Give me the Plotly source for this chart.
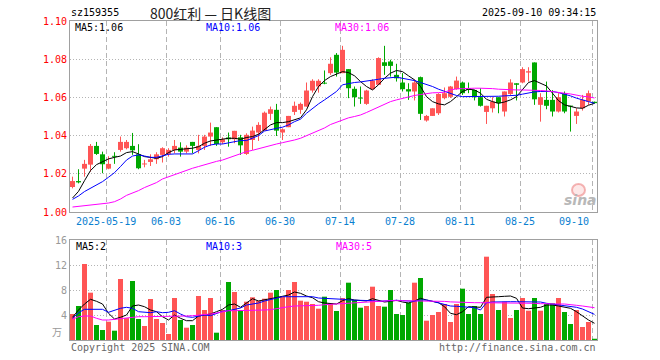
import plotly.graph_objects as go

# ---------------- data ----------------
months = {
    "05": ["09", "12", "13", "14", "15", "16", "19", "20", "21", "22", "23", "26", "27", "28", "29", "30"],
    "06": ["03", "04", "05", "06", "09", "10", "11", "12", "13", "16", "17", "18", "19", "20", "23", "24", "25", "26", "27", "30"],
    "07": ["01", "02", "03", "04", "07", "08", "09", "10", "11", "14", "15", "16", "17", "18", "21", "22", "23", "24", "25", "28", "29", "30", "31"],
    "08": ["01", "04", "05", "06", "07", "08", "11", "12", "13", "14", "15", "18", "19", "20", "21", "22", "25", "26", "27", "28", "29"],
    "09": ["01", "02", "03", "04", "05", "08", "09", "10"],
}
dates = [f"2025-{m}-{d}" for m, ds in months.items() for d in ds]

tick_dates = ["2025-05-19", "2025-06-03", "2025-06-16", "2025-06-30", "2025-07-14",
              "2025-07-28", "2025-08-11", "2025-08-25", "2025-09-10"]
tick_labels = ["2025-05-19", "06-03", "06-16", "06-30", "07-14", "07-28", "08-11", "08-25", "09-10"]

open_ = [1.0131, 1.0162, 1.0227, 1.0248, 1.0346, 1.0302, 1.0227, 1.0293, 1.0325, 1.0334,
         1.0346, 1.0302, 1.0249, 1.0262, 1.0276, 1.0299, 1.0304, 1.0325, 1.0337, 1.0316,
         1.0367, 1.0325, 1.0346, 1.0395, 1.0444, 1.0365, 1.0390, 1.0381, 1.0391, 1.0304,
         1.0377, 1.0416, 1.0426, 1.0514, 1.0535, 1.0416, 1.0444, 1.0524, 1.0535, 1.0552,
         1.0636, 1.0657, 1.0675, 1.0727, 1.0823, 1.0727, 1.0748, 1.0645, 1.0597, 1.0566,
         1.0643, 1.0666, 1.0784, 1.0788, 1.0718, 1.0678, 1.0643, 1.0631, 1.0706, 1.0479,
         1.0503, 1.0517, 1.0596, 1.0603, 1.0643, 1.0678, 1.0648, 1.0639, 1.0601, 1.0524,
         1.0543, 1.0601, 1.0526, 1.0618, 1.0674, 1.0678, 1.0730, 1.0783, 1.0561, 1.0587,
         1.0587, 1.0526, 1.0622, 1.0555, 1.0503, 1.0543, 1.0578, 1.0577]
high = [1.0185, 1.0224, 1.0273, 1.0356, 1.0367, 1.0316, 1.0292, 1.0313, 1.0395, 1.0377,
        1.0414, 1.0355, 1.0273, 1.0302, 1.0313, 1.0339, 1.0334, 1.0377, 1.0365, 1.0349,
        1.0367, 1.0404, 1.0404, 1.0468, 1.0444, 1.0391, 1.0416, 1.0425, 1.0404, 1.0412,
        1.0447, 1.0470, 1.0526, 1.0552, 1.0566, 1.0438, 1.0503, 1.0578, 1.0573, 1.0678,
        1.0695, 1.0695, 1.0741, 1.0810, 1.0832, 1.0870, 1.0748, 1.0657, 1.0657, 1.0640,
        1.0695, 1.0810, 1.0870, 1.0797, 1.0776, 1.0727, 1.0674, 1.0695, 1.0709, 1.0508,
        1.0543, 1.0622, 1.0652, 1.0660, 1.0709, 1.0683, 1.0678, 1.0639, 1.0648, 1.0556,
        1.0601, 1.0601, 1.0631, 1.0695, 1.0674, 1.0758, 1.0758, 1.0783, 1.0622, 1.0683,
        1.0638, 1.0622, 1.0631, 1.0556, 1.0543, 1.0613, 1.0636, 1.0578]
low = [1.0124, 1.0150, 1.0185, 1.0211, 1.0299, 1.0203, 1.0224, 1.0252, 1.0316, 1.0328,
       1.0299, 1.0224, 1.0234, 1.0241, 1.0252, 1.0259, 1.0290, 1.0307, 1.0290, 1.0307,
       1.0307, 1.0307, 1.0325, 1.0346, 1.0346, 1.0356, 1.0342, 1.0360, 1.0299, 1.0299,
       1.0325, 1.0372, 1.0426, 1.0482, 1.0398, 1.0377, 1.0444, 1.0508, 1.0514, 1.0552,
       1.0625, 1.0625, 1.0669, 1.0718, 1.0709, 1.0727, 1.0596, 1.0552, 1.0566, 1.0561,
       1.0640, 1.0666, 1.0718, 1.0709, 1.0683, 1.0631, 1.0587, 1.0584, 1.0482, 1.0473,
       1.0503, 1.0508, 1.0590, 1.0597, 1.0640, 1.0613, 1.0622, 1.0584, 1.0552, 1.0461,
       1.0521, 1.0517, 1.0500, 1.0613, 1.0584, 1.0674, 1.0683, 1.0561, 1.0473, 1.0538,
       1.0500, 1.0521, 1.0517, 1.0421, 1.0461, 1.0531, 1.0561, 1.0568]
close = [1.0162, 1.0155, 1.0252, 1.0346, 1.0304, 1.0250, 1.0252, 1.0289, 1.0367, 1.0367,
         1.0323, 1.0229, 1.0253, 1.0276, 1.0302, 1.0334, 1.0325, 1.0346, 1.0316, 1.0337,
         1.0346, 1.0346, 1.0395, 1.0416, 1.0356, 1.0381, 1.0381, 1.0425, 1.0349, 1.0404,
         1.0426, 1.0456, 1.0520, 1.0538, 1.0426, 1.0433, 1.0503, 1.0556, 1.0566, 1.0636,
         1.0687, 1.0687, 1.0672, 1.0776, 1.0730, 1.0849, 1.0648, 1.0601, 1.0594, 1.0636,
         1.0688, 1.0806, 1.0765, 1.0765, 1.0700, 1.0643, 1.0631, 1.0678, 1.0514, 1.0503,
         1.0543, 1.0618, 1.0622, 1.0657, 1.0688, 1.0622, 1.0639, 1.0601, 1.0556, 1.0556,
         1.0578, 1.0570, 1.0631, 1.0678, 1.0666, 1.0748, 1.0737, 1.0590, 1.0601, 1.0556,
         1.0526, 1.0601, 1.0526, 1.0552, 1.0526, 1.0587, 1.0622, 1.0570]

ma5 = [1.0073, 1.0108, 1.0164, 1.0217, 1.0248, 1.0265, 1.0278, 1.0286, 1.0293, 1.0311,
       1.0316, 1.0304, 1.0290, 1.0286, 1.0281, 1.0290, 1.0311, 1.0325, 1.0328, 1.0334,
       1.0334, 1.0342, 1.0360, 1.0372, 1.0377, 1.0381, 1.0386, 1.0386, 1.0381, 1.0390,
       1.0395, 1.0407, 1.0430, 1.0456, 1.0468, 1.0468, 1.0473, 1.0482, 1.0493, 1.0535,
       1.0604, 1.0657, 1.0688, 1.0709, 1.0723, 1.0735, 1.0730, 1.0713, 1.0683, 1.0657,
       1.0639, 1.0666, 1.0700, 1.0727, 1.0741, 1.0735, 1.0713, 1.0692, 1.0657, 1.0604,
       1.0578, 1.0566, 1.0561, 1.0578, 1.0604, 1.0631, 1.0643, 1.0639, 1.0622, 1.0590,
       1.0578, 1.0569, 1.0576, 1.0587, 1.0604, 1.0639, 1.0678, 1.0688, 1.0674, 1.0660,
       1.0622, 1.0583, 1.0561, 1.0552, 1.0545, 1.0543, 1.0559, 1.0569]
ma10 = [1.0066, 1.0084, 1.0107, 1.0124, 1.0141, 1.0159, 1.0182, 1.0206, 1.0238, 1.0272,
        1.0293, 1.0299, 1.0293, 1.0286, 1.0286, 1.0293, 1.0302, 1.0304, 1.0304, 1.0304,
        1.0304, 1.0321, 1.0339, 1.0351, 1.0356, 1.0356, 1.0363, 1.0369, 1.0374, 1.0374,
        1.0385, 1.0400, 1.0424, 1.0433, 1.0438, 1.0444, 1.0456, 1.0473, 1.0486, 1.0517,
        1.0543, 1.0566, 1.0587, 1.0608, 1.0631, 1.0666, 1.0674, 1.0678, 1.0681, 1.0685,
        1.0688, 1.0695, 1.0700, 1.0704, 1.0706, 1.0700, 1.0695, 1.0688, 1.0678, 1.0669,
        1.0657, 1.0643, 1.0631, 1.0618, 1.0610, 1.0604, 1.0604, 1.0604, 1.0604, 1.0604,
        1.0604, 1.0606, 1.0608, 1.0610, 1.0611, 1.0617, 1.0624, 1.0629, 1.0631, 1.0631,
        1.0631, 1.0625, 1.0618, 1.0608, 1.0596, 1.0585, 1.0578, 1.0569]
ma30 = [1.0026, 1.0030, 1.0033, 1.0035, 1.0038, 1.0042, 1.0047, 1.0054, 1.0068, 1.0087,
        1.0098, 1.0112, 1.0128, 1.0140, 1.0154, 1.0173, 1.0185, 1.0196, 1.0206, 1.0218,
        1.0229, 1.0238, 1.0248, 1.0259, 1.0265, 1.0272, 1.0283, 1.0297, 1.0306, 1.0316,
        1.0323, 1.0332, 1.0342, 1.0349, 1.0356, 1.0363, 1.0369, 1.0377, 1.0386, 1.0400,
        1.0412, 1.0424, 1.0440, 1.0458, 1.0470, 1.0482, 1.0493, 1.0500, 1.0508, 1.0521,
        1.0535, 1.0547, 1.0562, 1.0578, 1.0587, 1.0596, 1.0603, 1.0610, 1.0615, 1.0620,
        1.0624, 1.0625, 1.0627, 1.0639, 1.0645, 1.0646, 1.0648, 1.0648, 1.0648, 1.0648,
        1.0646, 1.0643, 1.0641, 1.0639, 1.0639, 1.0639, 1.0639, 1.0638, 1.0636, 1.0634,
        1.0631, 1.0627, 1.0622, 1.0618, 1.0611, 1.0606, 1.0603, 1.0597]

volume = [4.16, 5.44, 12.16, 7.57, 2.40, 1.60, 2.93, 1.49, 9.76, 3.50,
          9.44, 3.36, 2.24, 6.56, 3.36, 2.72, 0.96, 6.72, 3.20, 1.97,
          2.40, 7.04, 4.80, 6.72, 1.17, 4.80, 9.28, 7.68, 4.80, 6.13,
          6.83, 6.29, 6.61, 7.57, 8.00, 6.93, 8.00, 9.28, 6.29, 6.13,
          5.76, 5.01, 6.93, 5.87, 4.64, 6.72, 9.17, 6.40, 5.17, 5.44,
          8.53, 5.44, 5.33, 8.00, 4.16, 4.00, 5.97, 9.17, 9.92, 3.09,
          4.00, 4.48, 5.76, 2.88, 5.76, 8.21, 4.16, 5.44, 4.16, 13.33,
          7.36, 4.80, 6.13, 3.52, 4.80, 6.72, 4.69, 6.72, 4.69, 5.76,
          5.87, 6.72, 4.48, 2.56, 4.80, 2.08, 2.88, 0.20]
vma5 = [3.63, 4.80, 5.76, 6.51, 6.19, 5.76, 4.27, 3.36, 3.63, 4.00,
        5.44, 5.60, 5.33, 4.80, 4.53, 3.73, 3.20, 4.00, 3.47, 3.09,
        3.09, 3.84, 4.00, 4.16, 4.53, 4.91, 5.60, 5.76, 5.23, 5.87,
        6.61, 6.24, 6.40, 6.56, 6.77, 6.99, 7.20, 7.68, 7.47, 7.04,
        6.77, 6.13, 5.92, 5.87, 5.76, 6.29, 6.61, 6.40, 6.29, 6.24,
        6.61, 6.40, 6.08, 6.19, 6.35, 6.08, 5.92, 6.24, 6.67, 6.40,
        6.13, 5.97, 5.33, 4.27, 4.05, 4.53, 5.33, 5.23, 5.23, 6.83,
        6.83, 6.93, 6.99, 7.04, 6.67, 5.12, 5.01, 5.07, 5.23, 5.60,
        5.60, 5.44, 5.23, 5.07, 4.53, 3.84, 3.20, 2.67]
vma10 = [3.47, 4.37, 4.91, 4.91, 4.91, 4.91, 4.43, 4.80, 5.07, 5.23,
         5.07, 4.53, 4.48, 4.37, 4.53, 4.37, 4.43, 4.69, 4.16, 3.73,
         3.63, 3.79, 4.00, 3.89, 4.27, 4.59, 4.69, 4.85, 5.12, 5.60,
         5.76, 5.92, 6.24, 6.51, 6.77, 6.93, 6.93, 6.93, 6.93, 6.93,
         6.93, 6.72, 6.67, 6.67, 6.67, 6.51, 6.40, 6.40, 6.29, 6.29,
         6.29, 6.19, 6.24, 6.35, 6.35, 6.29, 6.19, 6.19, 6.40, 6.40,
         6.19, 5.97, 5.76, 5.44, 5.39, 5.33, 5.28, 5.17, 4.80, 5.97,
         6.08, 6.13, 6.13, 6.13, 6.13, 6.13, 6.13, 6.13, 6.08, 5.87,
         5.76, 5.60, 5.49, 5.33, 5.23, 4.96, 4.50, 4.10]
vma30 = [3.31, 3.73, 3.84, 3.84, 3.47, 3.20, 3.20, 3.31, 3.47, 3.57,
         3.63, 3.73, 3.73, 3.73, 3.73, 3.84, 3.84, 3.84, 3.84, 3.84,
         3.89, 3.95, 4.00, 4.16, 4.32, 4.48, 4.69, 4.69, 4.69, 4.75,
         4.80, 4.80, 4.80, 4.85, 5.01, 5.28, 5.33, 5.44, 5.44, 5.44,
         5.49, 5.55, 5.65, 5.71, 5.76, 5.81, 5.95, 6.00, 6.05, 6.15,
         6.20, 6.25, 6.30, 6.30, 6.30, 6.30, 6.30, 6.30, 6.30, 6.30,
         6.27, 6.22, 6.18, 6.10, 6.05, 5.97, 5.97, 5.97, 5.97, 5.97,
         5.97, 5.97, 5.97, 5.97, 5.97, 5.97, 5.92, 5.87, 5.81, 5.76,
         5.76, 5.76, 5.76, 5.60, 5.55, 5.44, 5.33, 5.17]

# ---------------- styling ----------------
W, H = 660, 360
PL, PR = 70, 597          # plot left / right (px)
P_TOP, P_BOT = 21, 212    # price panel
V_TOP, V_BOT = 240, 340   # volume panel
RED, GREEN = "#ff5555", "#00a800"
MONO = "DejaVu Sans Mono"
GRID = "#b4b4b4"
FRAME = "#a0a0a0"


def py(px):
    return 1 - px / H


def pxx(px):
    return px / W


n = len(dates)
xs = list(range(1, n + 1))
up = [c >= o for o, c in zip(open_, close)]
cols = [RED if u else GREEN for u in up]
step = (PR - PL) / 6.0          # 6 px per trading day
x0 = 1 - 2.5 / 6.0
xrange = [x0, x0 + step]
tick_idx = [dates.index(d) + 1 for d in tick_dates]
grid_x = [t - 0.37 for t in tick_idx]

fig = go.Figure()

# wicks
for flag, col in ((True, RED), (False, GREEN)):
    wx, wy = [], []
    for i in range(n):
        if up[i] == flag:
            wx += [xs[i], xs[i], None]
            wy += [low[i], high[i], None]
    fig.add_trace(go.Scatter(x=wx, y=wy, mode="lines", line=dict(color=col, width=1),
                             xaxis="x", yaxis="y", hoverinfo="skip"))

# bodies
body_base = [min(o, c) for o, c in zip(open_, close)]
body_h = [max(abs(c - o), 0.0005) for o, c in zip(open_, close)]
fig.add_trace(go.Bar(x=xs, y=body_h, base=body_base, width=5 / 6,
                     marker=dict(color=cols, line=dict(width=0)), xaxis="x", yaxis="y"))

# price MAs
for arr, col in ((ma5, "#000000"), (ma10, "#0000ff"), (ma30, "#ff00ff")):
    fig.add_trace(go.Scatter(x=xs, y=arr, mode="lines", line=dict(color=col, width=1),
                             xaxis="x", yaxis="y", hoverinfo="skip"))

# volume
fig.add_trace(go.Bar(x=xs, y=volume, width=5 / 6,
                     marker=dict(color=cols, line=dict(width=0)), xaxis="x2", yaxis="y2"))
for arr, col in ((vma5, "#000000"), (vma10, "#0000ff"), (vma30, "#ff00ff")):
    fig.add_trace(go.Scatter(x=xs, y=arr, mode="lines", line=dict(color=col, width=1),
                             xaxis="x2", yaxis="y2", hoverinfo="skip"))

xax = dict(domain=[pxx(PL), pxx(PR)], range=xrange, showgrid=True, gridcolor=GRID,
           griddash="5px,3px", gridwidth=1, tickmode="array", tickvals=grid_x,
           showticklabels=False, ticks="", zeroline=False, showline=True, mirror=True,
           linecolor=FRAME, linewidth=1, fixedrange=True, automargin=False)

fig.update_layout(
    width=W, height=H, margin=dict(l=0, r=0, t=0, b=0, pad=0, autoexpand=False),
    paper_bgcolor="white", plot_bgcolor="white",
    showlegend=False, barmode="overlay", hovermode=False,
    xaxis=dict(xax, anchor="y"),
    xaxis2=dict(xax, anchor="y2", matches="x"),
    yaxis=dict(domain=[py(P_BOT), py(P_TOP)], range=[1.0, 1.1], tickmode="array",
               tickvals=[1.00, 1.02, 1.04, 1.06, 1.08, 1.10],
               ticktext=["1.00", "1.02", "1.04", "1.06", "1.08", "1.10"],
               tickfont=dict(family=MONO, size=10, color="#ff0000"),
               showgrid=True, gridcolor=GRID, griddash="1px,2px", zeroline=False,
               showline=True, mirror=True, linecolor=FRAME, linewidth=1, ticks="",
               anchor="x", fixedrange=True, automargin=False),
    yaxis2=dict(domain=[py(V_BOT), py(V_TOP)], range=[0, 16], tickmode="array",
                tickvals=[4, 8, 12, 16], ticktext=["4", "8", "12", "16"],
                tickfont=dict(family=MONO, size=10, color="#999999"),
                showgrid=True, gridcolor=GRID, griddash="1px,2px", zeroline=False,
                showline=True, mirror=True, linecolor=FRAME, linewidth=1, ticks="",
                anchor="x2", fixedrange=True, automargin=False),
)


def ann(text, x, y, color="#000000", size=10, anchor="left", family=MONO, **kw):
    fig.add_annotation(text=text, x=pxx(x), y=py(y), xref="paper", yref="paper",
                       xanchor=anchor, yanchor="middle", showarrow=False,
                       font=dict(family=family, size=size, color=color), **kw)


ann("sz159355", 69, 13)
ann("800红利 — 日K线图", 210, 13, color="#222222", size=14, anchor="center",
    family="Noto Sans CJK SC")
ann("2025-09-10 09:34:15", 598, 13, anchor="right")

ann("MA5:1.06", 73, 28)
ann("MA10:1.06", 204, 28, color="#0000ff")
ann("MA30:1.06", 333, 28, color="#ff00ff")

ann("MA5:2", 74, 246)
ann("MA10:3", 204, 246, color="#0000ff")
ann("MA30:5", 334, 246, color="#ff00ff")

ann("万", 64, 331, color="#999999", size=10, anchor="right", family="Noto Sans CJK SC")
ann("Copyright 2025 SINA.COM", 69, 347, color="#666666")
ann("http://finance.sina.com.cn", 598, 347, color="#666666", anchor="right")

# date labels
for k, (gx, lab) in enumerate(zip(grid_x, tick_labels)):
    last = k == len(tick_labels) - 1
    fig.add_annotation(text=lab, x=gx, y=py(221), xref="x", yref="paper",
                       xanchor="right" if last else "center", yanchor="middle",
                       xshift=-1 if last else 0, showarrow=False,
                       font=dict(family=MONO, size=10, color="#0a80d0"))

# sina watermark
fig.add_shape(type="circle", xref="paper", yref="paper",
              x0=pxx(572), x1=pxx(585), y0=py(196), y1=py(184),
              line=dict(color="rgba(235,120,120,0.55)", width=2),
              fillcolor="rgba(250,190,190,0.35)", layer="above")
ann("<b><i>sina</i></b>", 580, 200, color="#b8b8b8", size=14, anchor="center",
    family="DejaVu Sans")

fig.write_html("out.html", config={"displayModeBar": False, "staticPlot": True},
               post_script="document.body.style.margin='0';document.body.style.padding='0';")
